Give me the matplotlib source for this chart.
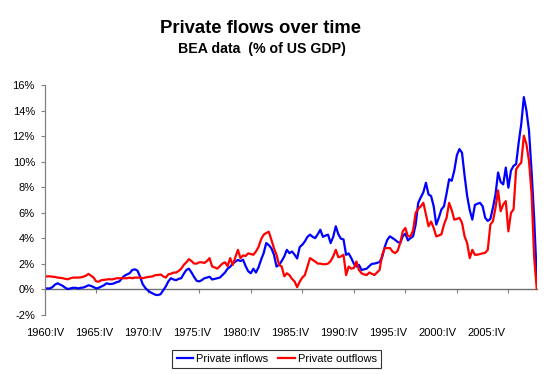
import matplotlib.pyplot as plt
import numpy as np

plt.rcParams['font.family'] = ['Liberation Sans', 'DejaVu Sans']

# quarterly data, 1960:IV - 2008:III (% of US GDP)
inflows = [
    0.05, 0.05, 0.05, 0.15, 0.35, 0.45, 0.35, 0.25,
    0.1, 0.0, 0.05, 0.1, 0.1, 0.05, 0.1, 0.12,
    0.2, 0.3, 0.25, 0.15, 0.05, 0.1, 0.2, 0.3,
    0.45, 0.4, 0.4, 0.45, 0.55, 0.6, 0.85, 1.05,
    1.15, 1.25, 1.5, 1.55, 1.45, 1.0, 0.4, 0.1,
    -0.1, -0.25, -0.35, -0.45, -0.47, -0.4, -0.1, 0.2,
    0.6, 0.85, 0.75, 0.7, 0.8, 0.85, 1.2, 1.5,
    1.6, 1.3, 0.95, 0.65, 0.6, 0.7, 0.85, 0.9,
    0.97, 0.75, 0.8, 0.85, 0.9, 1.1, 1.3, 1.6,
    1.75, 2.0, 2.15, 2.29, 2.2, 2.3, 1.8, 1.4,
    1.24, 1.6, 1.3, 1.7, 2.3, 2.82, 3.61, 3.45,
    3.2, 2.7, 1.77, 1.9, 2.2, 2.56, 3.08, 2.82,
    2.95, 2.7, 2.4, 3.3, 3.48, 3.74, 4.1, 4.27,
    4.1, 4.0, 4.3, 4.66, 4.1, 4.2, 4.27, 3.61,
    4.1, 4.93, 4.3, 3.95, 3.9, 2.69, 2.8, 2.43,
    2.0, 1.77, 1.9, 1.5, 1.55, 1.6, 1.8, 1.98,
    2.0, 2.05, 2.13, 2.5, 3.3, 3.87, 4.14, 4.0,
    3.87, 3.7, 3.61, 4.14, 4.35, 3.82, 4.0, 4.14,
    5.06, 6.77, 7.2, 7.6, 8.35, 7.43, 7.3, 6.5,
    5.06, 5.6, 6.25, 6.5, 7.5, 8.62, 8.5, 9.3,
    10.5, 10.99, 10.7, 8.9, 7.3, 6.2, 5.45, 6.6,
    6.7, 6.77, 6.5, 5.6, 5.35, 5.5, 6.38, 7.43,
    9.15, 8.4, 8.22, 9.54, 7.96, 9.3, 9.67, 9.8,
    11.5, 12.96, 15.07, 14.02, 12.43, 9.27, 5.59, 1.0,
]
outflows = [
    0.95, 1.0, 1.0, 0.97, 0.95, 0.9, 0.88, 0.85,
    0.8, 0.77, 0.85, 0.9, 0.9, 0.9, 0.92, 0.97,
    1.05, 1.19, 1.05, 0.9, 0.6, 0.58, 0.7, 0.72,
    0.75, 0.78, 0.75, 0.8, 0.85, 0.85, 0.85, 0.85,
    0.85, 0.9, 0.85, 0.9, 0.9, 0.9, 0.85, 0.9,
    0.95, 0.97, 1.0, 1.1, 1.1, 1.15, 1.0, 0.9,
    1.16, 1.2, 1.29, 1.3, 1.42, 1.6, 1.9, 2.1,
    2.35, 2.2, 2.0, 2.0, 2.1, 2.1, 2.05, 2.2,
    2.43, 1.77, 1.7, 1.6, 1.8, 2.0, 2.1, 1.8,
    2.43, 1.9, 2.5, 3.08, 2.43, 2.64, 2.6, 2.8,
    2.75, 2.69, 2.95, 3.3, 3.9, 4.27, 4.4, 4.5,
    3.87, 3.2, 2.69, 1.9, 1.77, 1.0, 1.24, 1.1,
    0.8, 0.6, 0.15, 0.58, 0.9, 1.1, 1.77, 2.43,
    2.3, 2.16, 2.0, 2.0, 1.95, 1.95, 2.0, 2.2,
    2.56, 3.08, 2.5, 2.56, 2.69, 1.1, 1.77, 1.6,
    1.65, 2.16, 1.5, 1.24, 1.15, 1.1, 1.3, 1.2,
    1.1, 1.3, 1.5, 2.69, 3.22, 3.22, 3.22, 2.95,
    2.82, 3.0, 3.61, 4.53, 4.8, 4.14, 4.14, 4.6,
    5.98, 6.3, 6.5, 6.77, 5.85, 4.93, 5.3, 4.8,
    4.14, 4.2, 4.3, 5.06, 5.59, 6.77, 6.2, 5.45,
    5.5, 5.59, 5.2, 4.14, 3.61, 2.43, 3.08, 2.69,
    2.7, 2.75, 2.8, 2.85, 3.08, 5.06, 5.32, 6.38,
    7.75, 6.11, 6.64, 6.9, 4.53, 5.98, 6.25, 9.4,
    9.7, 9.93, 12.04, 11.38, 10.06, 7.5, 2.5, 0.05,
]
year_labels = ['1960:IV', '1965:IV', '1970:IV', '1975:IV', '1980:IV',
               '1985:IV', '1990:IV', '1995:IV', '2000:IV', '2005:IV']
y_ticks = list(range(-2, 17, 2))

quarters = np.arange(len(inflows))
n = len(inflows)

fig = plt.figure(figsize=(5.47, 3.74), dpi=100)
ax = fig.add_axes([0.0817, 0.159, 0.8995, 0.613])

ax.plot(quarters, inflows, color='#0000ff', lw=1.6, label='Private inflows')
ax.plot(quarters, outflows, color='#ff0000', lw=1.6, label='Private outflows')

ax.set_xlim(0, n - 1)
ax.set_ylim(-2, 16)

# y axis
ax.set_yticks(y_ticks)
ax.set_yticklabels([f'{v}%' for v in y_ticks])
ax.tick_params(axis='y', direction='out', length=3, width=0.8, color='#808080',
               labelsize=8, pad=4)
for side in ['top', 'right', 'bottom']:
    ax.spines[side].set_visible(False)
ax.spines['left'].set_color('#808080')
ax.spines['left'].set_linewidth(0.9)

# labels sit at the bottom, Excel-style spacing (~19 quarters apart)
label_step = 19.05
ax.set_xticks([i * label_step for i in range(len(year_labels))])
ax.set_xticklabels(year_labels)
ax.tick_params(axis='x', length=0, labelsize=8, pad=10)

# zero line with tick marks every 20 quarters
sec = ax.secondary_xaxis(0, transform=ax.transData)
sec.set_xticks(np.arange(0, n, 20))
sec.set_xticklabels([])
sec.tick_params(axis='x', direction='out', length=3, width=0.8, color='#808080')
sec.spines['bottom'].set_color('#707070')
sec.spines['bottom'].set_linewidth(1.0)

fig.text(0.4768, 0.911, 'Private flows over time', ha='center', va='baseline',
         fontsize=13.3, fontweight='bold')
fig.text(0.4784, 0.8575, 'BEA data  (% of US GDP)', ha='center', va='baseline',
         fontsize=10.2, fontweight='bold')

leg = fig.legend(loc='center', bbox_to_anchor=(0.5055, 0.040), ncol=2,
                 fontsize=8, frameon=True, fancybox=False, edgecolor='black',
                 handlelength=1.5, handletextpad=0.25, columnspacing=0.9,
                 borderpad=0.4, borderaxespad=0)
leg.get_frame().set_linewidth(0.8)

fig.savefig('out.png', dpi=100)
